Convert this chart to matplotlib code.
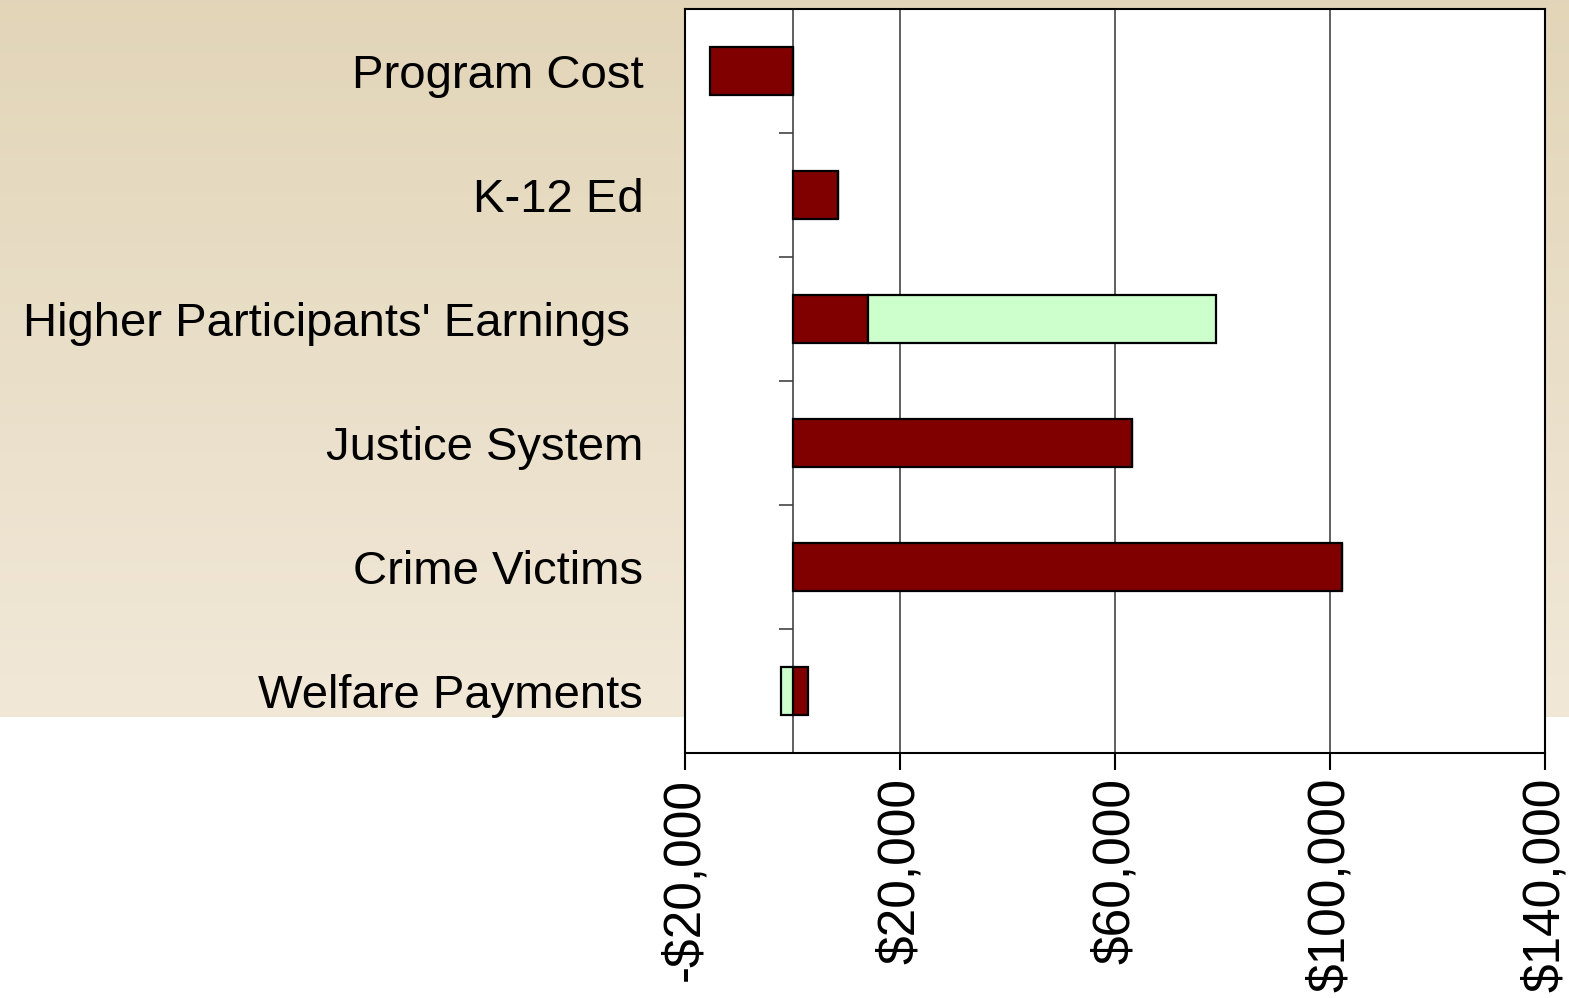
import numpy as np
import matplotlib
matplotlib.use("Agg")
import matplotlib.pyplot as plt
from matplotlib.ticker import FuncFormatter

# Chart data (dollars per participant)
categories = ["Program Cost", "K-12 Ed", "Higher Participants' Earnings ",
              "Justice System", "Crime Victims", "Welfare Payments"]
taxpayer = [-15300, 8400, 14000, 63100, 102300, 2800]
participant = [0, 0, 64800, 0, 0, -2200]
x_ticks = [-20000, 20000, 60000, 100000, 140000]

MAROON = "#800000"
GREEN = "#CCFFCC"

plt.rcParams['font.family'] = ['Liberation Sans', 'DejaVu Sans']

fig = plt.figure(figsize=(15.69, 9.98), dpi=100)
fig.patch.set_facecolor("white")

# beige gradient backdrop behind the upper part of the slide
bg = fig.add_axes([0, 1 - 717 / 998, 1, 717 / 998], zorder=0)
top = np.array([0.886, 0.835, 0.722])
bottom = np.array([0.945, 0.910, 0.847])
t = np.linspace(0, 1, 256)[:, None]
grad = (top * (1 - t) + bottom * t)[:, None, :]
bg.imshow(np.repeat(grad, 2, axis=1), aspect="auto", extent=[0, 1, 0, 1])
bg.axis("off")

ax = fig.add_axes([685 / 1569, 1 - 753 / 998, 860 / 1569, 744 / 998], zorder=1)
ax.set_facecolor("white")

y = np.arange(len(categories))
tp = np.array(taxpayer, dtype=float)
pt = np.array(participant, dtype=float)
pos_base = np.where(tp > 0, tp, 0)
neg_base = np.where(tp < 0, tp, 0)
pt_left = np.where(pt >= 0, pos_base, neg_base)

bar_h = 0.39
ax.barh(y, tp, height=bar_h, color=MAROON, edgecolor="black", linewidth=1.6, zorder=3)
ax.barh(y, pt, left=pt_left, height=bar_h, color=GREEN, edgecolor="black",
        linewidth=1.6, zorder=3)

ax.set_xlim(-20000, 140000)
ax.set_ylim(len(categories) - 0.5, -0.5)

ax.set_xticks(x_ticks)
ax.xaxis.set_major_formatter(FuncFormatter(
    lambda v, p: ("-$" if v < 0 else "$") + f"{abs(v):,.0f}"))
ax.tick_params(axis="x", direction="out", length=12, width=1.5, pad=6,
               labelsize=37, labelrotation=90)

ax.set_yticks(y)
ax.set_yticklabels(categories)
ax.tick_params(axis="y", length=0, pad=30, labelsize=34)

# gridlines and the zero axis with its category separator ticks
for v in x_ticks[1:-1]:
    ax.axvline(v, color="#444444", linewidth=1.2, zorder=1)
ax.axvline(0, color="#444444", linewidth=1.2, zorder=2)
ax.plot(np.zeros(len(categories) - 1), y[:-1] + 0.5, ls="none", marker=0,
        markersize=10, markeredgewidth=1.2, color="#444444", zorder=2)

for s in ax.spines.values():
    s.set_color("black")
    s.set_linewidth(1.5)

fig.savefig("out.png", dpi=100, facecolor=fig.get_facecolor())
